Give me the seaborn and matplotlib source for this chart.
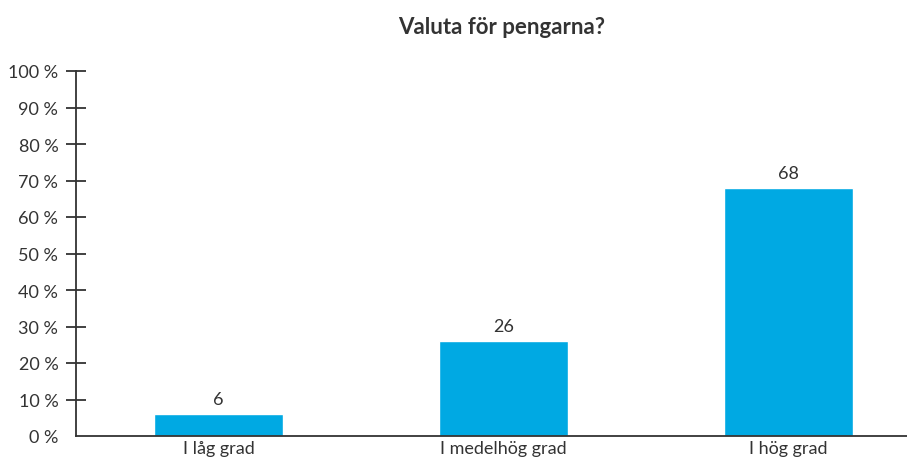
import matplotlib
matplotlib.use("Agg")
import matplotlib.pyplot as plt
import seaborn as sns
import pandas as pd

categories = ["I låg grad", "I medelhög grad", "I hög grad"]
values = [6, 26, 68]
yticks = [0, 10, 20, 30, 40, 50, 60, 70, 80, 90, 100]
ytick_labels = [f"{t} %" for t in yticks]
title = "Valuta för pengarna?"

sns.set_theme(style="white")
plt.rcParams["font.family"] = ["Lato", "DejaVu Sans"]

W, H = 907, 464
fig = plt.figure(figsize=(W / 100, H / 100), dpi=100)
ax = fig.add_axes([76 / W, (H - 437) / H, (W - 76) / W, (437 - 72) / H])

df = pd.DataFrame({"cat": categories, "val": values})
sns.barplot(data=df, x="cat", y="val", color="#00a9e3", saturation=1,
            width=0.45, ax=ax)

txt = "#333333"
for i, v in enumerate(values):
    ax.annotate(f"{v}", (i, v), xytext=(0, 5), textcoords="offset points",
                ha="center", va="bottom", fontsize=13, color=txt)

ax.set_ylim(0, 100)
ax.set_xlim(-0.5, (W - 76) / 285 - 0.5)
ax.set_yticks(yticks)
ax.set_yticklabels(ytick_labels)
ax.set_xlabel("")
ax.set_ylabel("")

for s in ["top", "right"]:
    ax.spines[s].set_visible(False)
for s in ["left", "bottom"]:
    ax.spines[s].set_color(txt)
    ax.spines[s].set_linewidth(1.3)

ax.tick_params(axis="y", left=True, direction="inout", length=14.4, width=1.3,
               color=txt, labelsize=13, labelcolor=txt, pad=5.5)
ax.tick_params(axis="x", bottom=False, length=0, labelsize=13, labelcolor=txt, pad=3)
ax.yaxis.get_major_ticks()[0].tick1line.set_visible(False)

fig.text(0.553, 1 - 27 / H, title, ha="center", va="center",
         fontsize=16, fontweight="bold", color=txt)

fig.savefig("out.png", dpi=100)
